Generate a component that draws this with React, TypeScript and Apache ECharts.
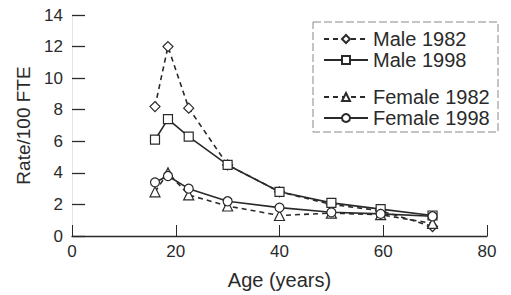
import React, { useEffect, useRef } from "react";
import * as echarts from "echarts";

const ages = [16, 18.5, 22.5, 30, 40, 50, 59.5, 69.5];
const male1982 = [8.2, 12.0, 8.1, 4.5, 2.8, 2.0, 1.6, 0.6];
const male1998 = [6.1, 7.4, 6.3, 4.5, 2.8, 2.1, 1.7, 1.3];
const female1982 = [2.8, 4.0, 2.6, 1.9, 1.3, 1.45, 1.35, 0.8];
const female1998 = [3.4, 3.8, 3.0, 2.2, 1.8, 1.5, 1.4, 1.25];
const xTicks = [0, 20, 40, 60, 80];
const yTicks = [0, 2, 4, 6, 8, 10, 12, 14];

const INK = "#2a2a2a";
const FONT = "Liberation Sans";

function pairs(vals: number[]) {
  return ages.map((a, i) => [a, vals[i]]);
}

export default function App() {
  const ref = useRef<HTMLDivElement>(null);
  useEffect(() => {
    if (!ref.current) return;
    const chart = echarts.init(ref.current, undefined, { renderer: "svg" });
    const mk = (name: string, vals: number[], symbol: string, dashed: boolean, size: number) => ({
      name,
      type: "line",
      data: pairs(vals),
      symbol,
      symbolSize: size,
      showAllSymbol: true,
      itemStyle: { color: "#fff", borderColor: INK, borderWidth: 1.2 },
      lineStyle: { color: INK, width: 1.6, type: dashed ? [5, 4] : "solid" },
      z: 3,
    });
    const legendText = { fontSize: 20, lineHeight: 20, color: INK, fontFamily: FONT };
    chart.setOption({
      animation: false,
      backgroundColor: "#fff",
      textStyle: { fontFamily: FONT, color: INK },
      grid: { left: 72, right: 24, top: 15, bottom: 57 },
      xAxis: {
        type: "value",
        min: xTicks[0],
        max: xTicks[xTicks.length - 1],
        interval: 20,
        name: "Age (years)",
        nameLocation: "middle",
        nameGap: 34,
        nameTextStyle: { fontSize: 20, color: INK, fontFamily: FONT },
        axisLine: { show: true, lineStyle: { color: INK, width: 1.3 } },
        axisTick: {
          show: true,
          inside: true,
          length: 11,
          lineStyle: { color: INK, width: 1 },
          interval: (_i: number, v: any) => Number(v) === 40,
        },
        axisLabel: { fontSize: 17, color: INK, margin: 7, fontFamily: FONT },
        splitLine: { show: false },
      },
      yAxis: {
        type: "value",
        min: yTicks[0],
        max: yTicks[yTicks.length - 1],
        interval: 2,
        name: "Rate/100 FTE",
        nameLocation: "middle",
        nameGap: 39,
        nameTextStyle: { fontSize: 19, color: INK, fontFamily: FONT },
        axisLine: { show: true, lineStyle: { color: "#e4e4e4", width: 1 } },
        axisTick: { show: true, inside: true, length: 13, lineStyle: { color: INK, width: 1.3 } },
        axisLabel: { fontSize: 17, color: INK, margin: 9, fontFamily: FONT },
        splitLine: { show: false },
      },
      legend: [
        {
          data: ["Male 1982", "Male 1998"],
          orient: "vertical",
          left: 323,
          top: 29,
          itemWidth: 44,
          itemHeight: 10,
          itemGap: 1,
          padding: 0,
          textStyle: legendText,
        },
        {
          data: ["Female 1982", "Female 1998"],
          orient: "vertical",
          left: 323,
          top: 87,
          itemWidth: 44,
          itemHeight: 10,
          itemGap: 1,
          padding: 0,
          textStyle: legendText,
        },
      ],
      graphic: [
        {
          type: "rect",
          shape: { x: 313, y: 22, width: 185, height: 110 },
          style: { fill: "none", stroke: "#888", lineWidth: 1, lineDash: [8, 3] },
          z: 1,
        },
      ],
      series: [
        mk("Male 1982", male1982, "diamond", true, 10),
        mk("Male 1998", male1998, "rect", false, 9),
        mk("Female 1982", female1982, "triangle", true, 10),
        mk("Female 1998", female1998, "circle", false, 9),
      ],
    });
    return () => chart.dispose();
  }, []);
  return <div ref={ref} style={{ width: 511, height: 295, position: "absolute", left: 0, top: 0 }} />;
}
